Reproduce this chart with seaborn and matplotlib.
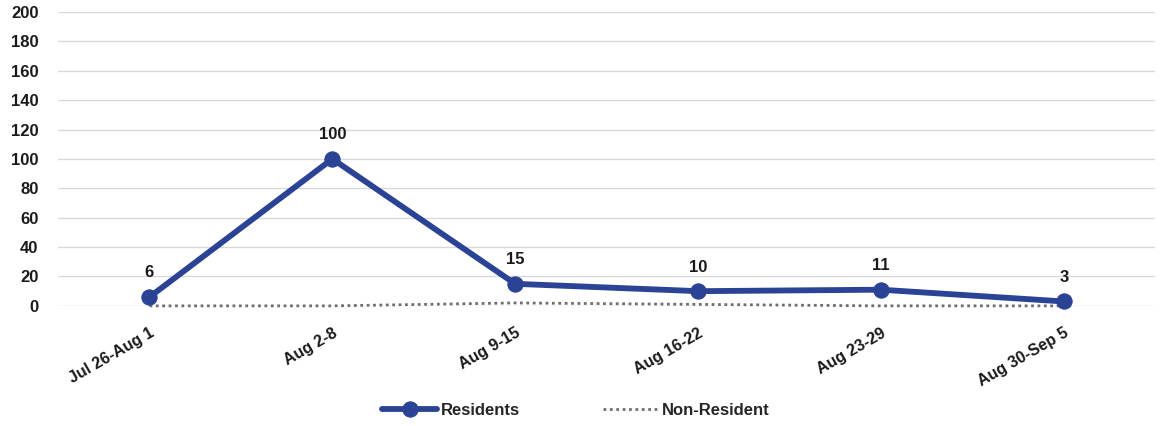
import matplotlib
matplotlib.use("Agg")
import matplotlib.pyplot as plt
import seaborn as sns
import pandas as pd

weeks = ["Jul 26-Aug 1", "Aug 2-8", "Aug 9-15", "Aug 16-22", "Aug 23-29", "Aug 30-Sep 5"]
residents = [6, 100, 15, 10, 11, 3]
non_resident = [0, 0, 2, 1, 0, 0]
y_ticks = list(range(0, 201, 20))

sns.set_style("white")
plt.rcParams['font.family'] = ['Liberation Sans', 'DejaVu Sans']

df = pd.DataFrame({"week": weeks, "Residents": residents, "Non-Resident": non_resident})
df["x"] = range(len(weeks))

fig = plt.figure(figsize=(11.61, 4.26), dpi=100)
ax = fig.add_axes([0.05, 0.282, 0.945, 0.69])

blue = "#2B4394"
txt = "#1A1A1A"
sns.lineplot(data=df, x="x", y="Non-Resident", ax=ax, color="#6E6E6E",
             linestyle=(0, (1, 1.3)), linewidth=2, label="Non-Resident")
sns.lineplot(data=df, x="x", y="Residents", ax=ax, color=blue, linewidth=4.2,
             marker="o", markersize=11, markeredgecolor=blue, label="Residents")
for ln in ax.lines:
    ln.set_clip_on(False)

# data labels above each resident point
for x, v in zip(df["x"], residents):
    ax.annotate(str(v), (x, v), xytext=(0, 12), textcoords="offset points",
                ha="center", va="bottom", fontsize=12, fontweight="bold", color=txt)

ax.set_ylim(0, 200)
ax.set_yticks(y_ticks)
ax.set_xlim(-0.5, len(weeks) - 0.5)
ax.set_xticks(df["x"])
ax.set_xticklabels(weeks, rotation=30, ha="right", rotation_mode="anchor",
                   fontsize=11.5, fontweight="bold", color=txt)
for lab in ax.get_yticklabels():
    lab.set_fontweight("bold")
    lab.set_fontsize(12)
    lab.set_color(txt)
ax.tick_params(axis="y", length=0, pad=14)
ax.tick_params(axis="x", length=0, pad=14)
ax.yaxis.grid(True, color="#D9D9D9", linewidth=1)
ax.set_axisbelow(True)
for s in ax.spines.values():
    s.set_visible(False)
ax.set_xlabel("")
ax.set_ylabel("")

handles, labels = ax.get_legend_handles_labels()
order = [labels.index("Residents"), labels.index("Non-Resident")]
fig.legend([handles[i] for i in order], [labels[i] for i in order],
           loc="center", bbox_to_anchor=(0.496, 0.037), ncol=2, frameon=False,
           columnspacing=5, handlelength=3.3, handletextpad=0.2,
           prop={"weight": "bold", "size": 12})
if ax.get_legend():
    ax.get_legend().remove()

fig.savefig("out.png", dpi=100)
